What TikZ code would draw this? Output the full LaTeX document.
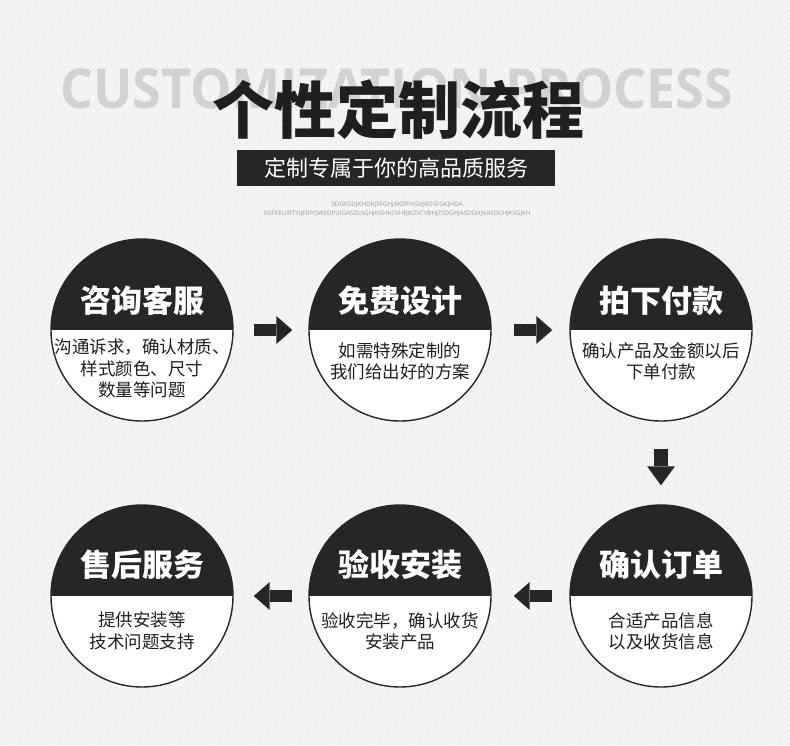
\documentclass[tikz,border=0pt]{standalone}
\usepackage{fontspec}
\usepackage{graphicx}
\usepackage{xcolor}
\usetikzlibrary{positioning, arrows.meta}
\setsansfont{Open Sans}
\newfontfamily\cjk{Noto Sans CJK SC}
\definecolor{bgpaper}{HTML}{EFEFEF}
\definecolor{bgstripe}{HTML}{F8F8F8}
\definecolor{inkdark}{HTML}{262626}
\definecolor{ghostgrey}{HTML}{D2D2D2}
\tikzset{
    stagecircle/.style={circle, minimum size=182pt, inner sep=0pt, draw=inkdark, line width=1.4pt, fill=white,
        path picture={\fill[inkdark] (path picture bounding box.north west) rectangle (path picture bounding box.east);}},
    stagetitle/.style={font=\cjk\bfseries\fontsize{31pt}{31pt}\selectfont, text=white, inner sep=0pt},
    stagebody/.style={font=\cjk\fontsize{17.5pt}{21.5pt}\selectfont, text=black!88, align=center, inner sep=0pt},
    flowarrow/.style={draw=inkdark, line width=12pt, -{Triangle[length=16pt, width=28pt, line width=0pt]}}
}

\begin{document}
\begin{tikzpicture}[x=1pt, y=-1pt]
    \useasboundingbox (0,0) rectangle (790,745);
    % striped paper
    \begin{scope}
        \clip (0,0) rectangle (790,745);
        \fill[bgpaper] (0,0) rectangle (790,745);
        \foreach \k in {-750,-745,...,790}
            \draw[bgstripe, line width=1.3pt] (\k,745) -- ++(745,-745);
    \end{scope}

    % heading
    \node[text=ghostgrey, inner sep=0pt, anchor=base west] (ghost) at (60,108)
        {\resizebox{673pt}{40pt}{\sffamily\bfseries CUSTOMIZATION PROCESS}};
    \node[font=\cjk\bfseries\fontsize{62pt}{62pt}\selectfont, text=black!88, inner sep=0pt] (headline) at (398,110) {个性定制流程};
    \node[fill=inkdark, minimum width=318pt, minimum height=36pt, inner sep=0pt, text=white,
        font=\cjk\fontsize{22pt}{22pt}\selectfont] (tagline) at (396,168) {定制专属于你的高品质服务};
    \node[text=black!40, inner sep=0pt] (noise1) at (397,205)
        {\resizebox{131pt}{!}{\sffamily SDGKSDJKHDKJSFGHJAKDFHGVJADSFGKJHDA}};
    \node[text=black!40, inner sep=0pt] (noise2) at (397,214)
        {\resizebox{267pt}{!}{\sffamily SGFKEUIRTYIJERPQWEDPUIGASDUIGHJKGHKCVHBJKZXCVBHJZSDGHJASDGHJKASDGHJKSGJKH}};

    % stages
    \node[stagecircle] (s1) at (142,330) {};
    \node[stagecircle] (s2) at (400,330) {};
    \node[stagecircle] (s3) at (661,330) {};
    \node[stagecircle] (s4) at (142,596) {};
    \node[stagecircle] (s5) at (400,596) {};
    \node[stagecircle] (s6) at (661,596) {};

    \node[stagetitle] (t1) at ([yshift=29pt]s1.center) {咨询客服};
    \node[stagetitle] (t2) at ([yshift=29pt]s2.center) {免费设计};
    \node[stagetitle] (t3) at ([yshift=29pt]s3.center) {拍下付款};
    \node[stagetitle] (t4) at ([yshift=31pt]s4.center) {售后服务};
    \node[stagetitle] (t5) at ([yshift=31pt]s5.center) {验收安装};
    \node[stagetitle] (t6) at ([yshift=31pt]s6.center) {确认订单};

    \node[stagebody, below=9pt of s1.center] (b1) {沟通诉求，确认材质、\\样式颜色、尺寸\\数量等问题};
    \node[stagebody, below=12pt of s2.center] (b2) {如需特殊定制的\\我们给出好的方案};
    \node[stagebody, below=12pt of s3.center] (b3) {确认产品及金额以后\\下单付款};
    \node[stagebody, below=16pt of s4.center] (b4) {提供安装等\\技术问题支持};
    \node[stagebody, below=16pt of s5.center] (b5) {验收完毕，确认收货\\安装产品};
    \node[stagebody, below=16pt of s6.center] (b6) {合适产品信息\\以及收货信息};

    % arrows
    \draw[flowarrow, shorten <=20pt, shorten >=16pt] (s1) -- (s2);
    \draw[flowarrow, shorten <=22pt, shorten >=17pt] (s2) -- (s3);
    \draw[flowarrow, line width=14pt, -{Triangle[length=19pt, width=28pt, line width=0pt]},
        shorten <=27pt, shorten >=19pt] (s3) -- (s6);
    \draw[flowarrow, shorten <=17pt, shorten >=22pt] (s6) -- (s5);
    \draw[flowarrow, shorten <=16pt, shorten >=20pt] (s5) -- (s4);
\end{tikzpicture}
\end{document}
